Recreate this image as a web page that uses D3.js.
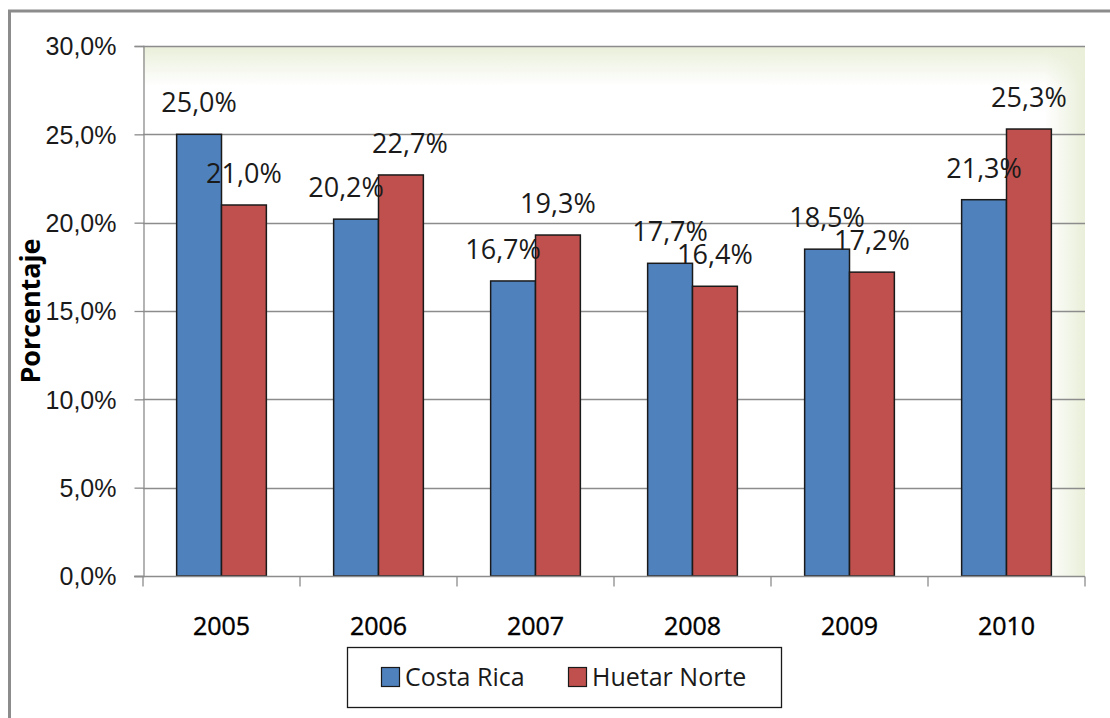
<!DOCTYPE html>
<html lang="es">
  <head>
    <meta charset="UTF-8" />
    <title>Porcentaje Costa Rica / Huetar Norte</title>
    <script src="https://cdnjs.cloudflare.com/ajax/libs/d3/7.8.5/d3.min.js"></script>
    <style>
      body {
        margin: 0;
        background: #fff;
      }
      svg {
        display: block;
        font-family: 'Open Sans', sans-serif;
      }
    </style>
  </head>
  <body>
    <svg width="1110" height="718"></svg>
    <script>
      // Data
      const years = ['2005', '2006', '2007', '2008', '2009', '2010'];
      const series = ['Costa Rica', 'Huetar Norte'];
      const costaRica = [25.0, 20.2, 16.7, 17.7, 18.5, 21.3];
      const huetarNorte = [21.0, 22.7, 19.3, 16.4, 17.2, 25.3];
      const yTicks = [0, 5, 10, 15, 20, 25, 30];

      const colors = ['#4F81BD', '#C0504D'];
      const fmt = v => v.toFixed(1).replace('.', ',') + '%';

      // small manual nudges of data labels (as in the original)
      const labelNudge = { '2006|0': -10, '2006|1': 9, '2007|0': -10 };

      const svg = d3.select('svg');
      const plot = { left: 143, right: 1085, top: 46, bottom: 576 };

      const x0 = d3.scaleBand().domain(years).range([plot.left, plot.right]);
      const x1 = d3
        .scaleBand()
        .domain(series)
        .range([0, x0.bandwidth()])
        .paddingInner(0)
        .paddingOuter(0.75);
      const y = d3.scaleLinear().domain([0, 30]).range([plot.bottom, plot.top]);

      const rows = years.map((yr, i) => ({ year: yr, values: [costaRica[i], huetarNorte[i]] }));

      // outer chart border (cut at right/bottom)
      svg
        .append('rect')
        .attr('x', 9.5)
        .attr('y', 11)
        .attr('width', 1130)
        .attr('height', 760)
        .attr('fill', 'none')
        .attr('stroke', '#8c8c8c')
        .attr('stroke-width', 3);

      // plot background gradient
      const defs = svg.append('defs');
      const gTop = defs
        .append('linearGradient')
        .attr('id', 'gTop')
        .attr('x1', 0)
        .attr('y1', 0)
        .attr('x2', 0)
        .attr('y2', 1);
      gTop.append('stop').attr('offset', 0).attr('stop-color', '#e9efd9').attr('stop-opacity', 1);
      gTop.append('stop').attr('offset', 1).attr('stop-color', '#e9efd9').attr('stop-opacity', 0);
      const gRight = defs
        .append('linearGradient')
        .attr('id', 'gRight')
        .attr('x1', 1)
        .attr('y1', 0)
        .attr('x2', 0)
        .attr('y2', 0);
      gRight.append('stop').attr('offset', 0).attr('stop-color', '#e9efd9').attr('stop-opacity', 1);
      gRight.append('stop').attr('offset', 1).attr('stop-color', '#e9efd9').attr('stop-opacity', 0);

      svg
        .append('rect')
        .attr('x', plot.left)
        .attr('y', plot.top)
        .attr('width', plot.right - plot.left)
        .attr('height', 40)
        .attr('fill', 'url(#gTop)');
      svg
        .append('rect')
        .attr('x', plot.right - 40)
        .attr('y', plot.top)
        .attr('width', 40)
        .attr('height', plot.bottom - plot.top)
        .attr('fill', 'url(#gRight)');

      // gridlines
      svg
        .append('g')
        .selectAll('line')
        .data(yTicks.filter(d => d > 0))
        .join('line')
        .attr('x1', plot.left)
        .attr('x2', plot.right)
        .attr('y1', d => Math.round(y(d)) + 0.5)
        .attr('y2', d => Math.round(y(d)) + 0.5)
        .attr('stroke', '#8c8c8c')
        .attr('stroke-width', 1.3);

      // y axis
      const yAxis = svg
        .append('g')
        .attr('transform', `translate(${plot.left + 0.5},0)`)
        .call(
          d3
            .axisLeft(y)
            .tickValues(yTicks)
            .tickSize(9)
            .tickPadding(18)
            .tickFormat(fmt),
        );
      yAxis.select('.domain').attr('stroke', '#8c8c8c').attr('stroke-width', 1.3);
      yAxis.selectAll('.tick line').attr('stroke', '#8c8c8c').attr('stroke-width', 1.3);
      yAxis
        .selectAll('.tick text')
        .attr('fill', '#1a1a1a')
        .style('font-size', '25px')
        .attr('dy', '0.35em');

      // bars
      const groups = svg
        .append('g')
        .selectAll('g')
        .data(rows)
        .join('g')
        .attr('transform', d => `translate(${x0(d.year)},0)`);

      groups
        .selectAll('rect')
        .data(d => d.values.map((v, k) => ({ year: d.year, k, v })))
        .join('rect')
        .attr('x', d => x1(series[d.k]))
        .attr('y', d => y(d.v))
        .attr('width', x1.bandwidth())
        .attr('height', d => y(0) - y(d.v))
        .attr('fill', d => colors[d.k])
        .attr('stroke', '#1a1a1a')
        .attr('stroke-width', 1.5);

      // x axis
      const xAxis = svg
        .append('g')
        .attr('transform', `translate(0,${plot.bottom + 0.5})`);
      xAxis
        .append('line')
        .attr('x1', plot.left - 9)
        .attr('x2', plot.right)
        .attr('stroke', '#8c8c8c')
        .attr('stroke-width', 1.3);
      xAxis
        .selectAll('line.tk')
        .data(years.concat(['end']))
        .join('line')
        .attr('class', 'tk')
        .attr('x1', (d, i) => (i < years.length ? x0(d) : plot.right))
        .attr('x2', (d, i) => (i < years.length ? x0(d) : plot.right))
        .attr('y1', 0)
        .attr('y2', 10)
        .attr('stroke', '#8c8c8c')
        .attr('stroke-width', 1.3);
      xAxis
        .selectAll('text')
        .data(years)
        .join('text')
        .attr('x', d => x0(d) + x0.bandwidth() / 2)
        .attr('y', 58)
        .attr('text-anchor', 'middle')
        .attr('fill', '#000')
        .attr('stroke', '#000')
        .attr('stroke-width', 0.4)
        .style('font-size', '25px')
        .text(d => d);

      // data labels
      groups
        .selectAll('text')
        .data(d => d.values.map((v, k) => ({ year: d.year, k, v })))
        .join('text')
        .attr(
          'x',
          d => x1(series[d.k]) + x1.bandwidth() / 2 + (labelNudge[d.year + '|' + d.k] || 0),
        )
        .attr('y', d => y(d.v) - 22)
        .attr('text-anchor', 'middle')
        .attr('fill', '#1a1a1a')
        .style('font-size', '27px')
        .text(d => fmt(d.v));

      // y axis title
      svg
        .append('text')
        .attr('transform', `translate(40,311) rotate(-90)`)
        .attr('text-anchor', 'middle')
        .attr('fill', '#000')
        .style('font-size', '26px')
        .style('font-weight', 'bold')
        .attr('textLength', 145)
        .attr('lengthAdjust', 'spacingAndGlyphs')
        .text('Porcentaje');

      // legend
      const lg = svg.append('g').attr('transform', 'translate(347,647)');
      lg.append('rect')
        .attr('x', 0.5)
        .attr('y', 0.5)
        .attr('width', 434)
        .attr('height', 60)
        .attr('fill', '#fff')
        .attr('stroke', '#1a1a1a')
        .attr('stroke-width', 1.3);
      const legendX = [34, 221];
      const li = lg
        .selectAll('g.item')
        .data(series)
        .join('g')
        .attr('class', 'item')
        .attr('transform', (d, i) => `translate(${legendX[i]},0)`);
      li.append('rect')
        .attr('x', 0.5)
        .attr('y', 20.5)
        .attr('width', 18)
        .attr('height', 19)
        .attr('fill', (d, i) => colors[i])
        .attr('stroke', '#1a1a1a')
        .attr('stroke-width', 1.2);
      li.append('text')
        .attr('x', 24)
        .attr('y', 39)
        .attr('fill', '#1a1a1a')
        .style('font-size', '25px')
        .text(d => d);
    </script>
  </body>
</html>
